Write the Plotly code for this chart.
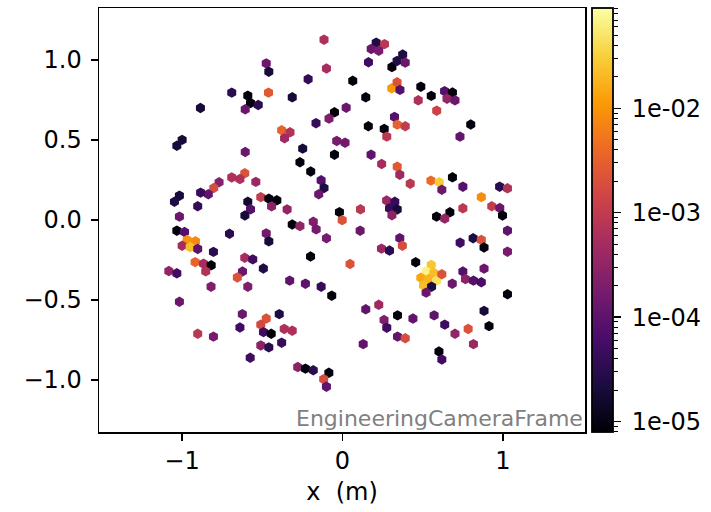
import numpy as np
import plotly.graph_objects as go

# hexbin cell centres (m) and cell values
x_m = [
    -0.475, -0.459, -0.461, -0.690, -0.590, -0.573, -0.525, -0.606, -0.885, -0.999,
    -1.032, -0.606, -0.609, -0.690, -0.639, -0.540, -0.769, -0.802, -0.836, -0.884,
    -1.016, -1.047, -0.902, -0.590, -0.573, -0.509, -0.459, -0.409, -0.442, -0.608,
    -1.016, -0.345, -0.133, -0.115, -0.148, -0.019, -0.002, 0.023, -0.050, -0.084,
    -0.165, -0.036, 0.016, -0.050, -0.248, -0.265, -0.198, -0.379, -0.327, -0.361,
    -0.214, -0.313, -0.115, -0.100, 0.210, 0.262, 0.179, 0.226, 0.162, 0.308,
    0.064, 0.145, 0.307, 0.161, 0.260, 0.276, 0.178, 0.244, 0.112, 0.275,
    0.326, 0.293, 0.341, 0.308, 0.375, 0.340, 0.391, 0.340, 0.358, 0.488,
    0.553, 0.636, 0.685, 0.651, 0.701, 0.472, 0.587, 0.324, 0.341, 0.391,
    0.799, 0.732, 0.341, 0.357, 0.422, 0.551, 0.603, 0.619, 0.685, 0.750,
    0.865, 0.979, 1.028, 0.930, 0.980, 0.997, 0.750, 0.669, 0.586, 0.637,
    -1.032, -0.984, -0.968, -0.916, -0.999, -0.949, -0.902, -0.804, -0.704, -0.475,
    -0.459, -0.918, -0.866, -0.818, -0.852, -1.082, -1.032, -0.819, -1.016, -0.609,
    -0.559, -0.493, -0.623, -0.655, -0.590, -0.624, -0.475, -0.509, -0.639, -0.492,
    -0.444, -0.509, -0.459, -0.575, -0.902, -0.804, -0.313, -0.265, -0.182, -0.164,
    -0.100, 0.110, -0.199, 0.047, 0.243, 0.293, -0.329, -0.231, -0.133, -0.067,
    0.145, 0.226, 0.259, 0.276, 0.129, -0.394, -0.363, -0.313, -0.379, -0.279,
    -0.231, -0.182, -0.085, -0.117, -0.100, 0.343, 0.391, 0.357, 0.373, 0.733,
    0.814, 0.865, 0.882, 1.028, 1.028, 0.456, 0.553, 0.521, 0.569, 0.488,
    0.538, 0.586, 0.619, 0.505, 0.555, 0.521, 0.684, 0.750, 0.882, 0.766,
    0.816, 0.865, 1.028, 0.343, 0.439, 0.571, 0.637, 0.701, 0.783, 0.882,
    0.913, 0.816, 0.601, 0.619,
]
y_m = [
    0.979, 0.927, 0.796, 0.796, 0.777, 0.731, 0.719, 0.692, 0.700, 0.501,
    0.464, 0.425, 0.292, 0.266, 0.256, 0.238, 0.236, 0.200, 0.161, 0.171,
    0.152, 0.114, 0.086, 0.114, 0.067, 0.143, 0.133, 0.123, 0.085, 0.028,
    0.021, 0.066, 0.248, 0.200, 0.161, 0.049, -0.001, 0.702, 0.673, 0.634,
    0.605, 0.494, 0.483, 0.408, 0.446, 0.361, 0.303, 0.561, 0.548, 0.511,
    0.880, 0.767, 1.127, 0.947, 1.108, 1.099, 1.069, 1.058, 0.986, 0.956,
    0.870, 0.767, 0.823, 0.586, 0.569, 0.521, 0.408, 0.350, 0.067, 0.122,
    0.114, 0.073, 0.066, 0.030, 1.034, 0.994, 0.984, 0.861, 0.813, 0.833,
    0.776, 0.805, 0.797, 0.758, 0.748, 0.748, 0.683, 0.644, 0.596, 0.586,
    0.597, 0.521, 0.333, 0.283, 0.227, 0.246, 0.236, 0.189, 0.267, 0.208,
    0.143, 0.208, 0.198, 0.086, 0.075, 0.028, 0.073, 0.048, 0.021, 0.009,
    -0.067, -0.075, -0.125, -0.133, -0.161, -0.169, -0.181, -0.199, -0.086, -0.084,
    -0.133, -0.263, -0.273, -0.283, -0.321, -0.319, -0.333, -0.417, -0.511, -0.236,
    -0.246, -0.303, -0.322, -0.359, -0.417, -0.588, -0.616, -0.654, -0.672, -0.701,
    -0.711, -0.784, -0.796, -0.861, -0.711, -0.729, -0.028, -0.038, -0.011, -0.058,
    -0.114, -0.067, -0.228, -0.275, -0.179, -0.191, -0.379, -0.398, -0.417, -0.473,
    -0.558, -0.530, -0.625, -0.673, -0.776, -0.588, -0.681, -0.692, -0.767, -0.919,
    -0.929, -0.939, -0.955, -0.995, -1.042, -0.729, -0.739, -0.113, -0.161, -0.142,
    -0.114, -0.124, -0.172, -0.067, -0.198, -0.264, -0.281, -0.321, -0.331, -0.361,
    -0.369, -0.379, -0.339, -0.408, -0.417, -0.454, -0.398, -0.322, -0.304, -0.369,
    -0.379, -0.389, -0.464, -0.596, -0.616, -0.596, -0.654, -0.711, -0.681, -0.568,
    -0.663, -0.776, -0.822, -0.872,
]
cell_value = [
    1.3e-4, 2.0e-5, 2.6e-3, 3.2e-5, 9e-6, 9e-6, 3.2e-5, 1.3e-4, 2.0e-5, 2.0e-5,
    2.0e-5, 1.3e-4, 2.1e-3, 6.3e-4, 6.3e-4, 4.0e-4, 2.5e-4, 1.8e-3, 1.1e-4, 4.3e-5,
    2.0e-5, 2.4e-5, 3.9e-5, 1.7e-5, 8.2e-5, 1.0e-3, 9e-6, 9e-6, 2.8e-4, 2.0e-5,
    1.3e-4, 3.3e-4, 8.2e-5, 2.4e-5, 1.3e-4, 9e-6, 2.1e-3, 1.3e-4, 9e-6, 2.1e-4,
    3.9e-5, 1.7e-4, 1.6e-4, 9e-6, 2.0e-5, 9e-6, 9e-6, 3.4e-3, 7.0e-4, 4.4e-4,
    3.9e-5, 2.0e-5, 6.3e-4, 5.3e-4, 2.4e-5, 8.4e-4, 1.3e-4, 1.7e-4, 5.1e-5, 9e-6,
    9e-6, 9e-6, 1.1e-2, 9e-6, 9e-6, 8.4e-4, 9.9e-5, 5.3e-4, 8.4e-4, 4.0e-4,
    3.9e-5, 4.3e-5, 2.0e-5, 2.8e-4, 2.4e-5, 2.4e-5, 1.3e-4, 2.1e-3, 8.2e-5, 9e-6,
    9e-6, 8.2e-5, 9e-6, 3.3e-4, 1.3e-4, 6.3e-4, 1.3e-3, 8.2e-5, 3.4e-3, 1.0e-3,
    9e-6, 1.1e-4, 2.6e-3, 4.4e-4, 8.4e-4, 4.1e-3, 2.9e-2, 1.3e-4, 9e-6, 8.2e-5,
    8.7e-3, 3.2e-5, 7.0e-4, 1.0e-3, 1.3e-4, 9e-6, 8.4e-4, 9e-6, 9e-6, 3.3e-4,
    9e-6, 8.2e-5, 9.5e-3, 7.9e-3, 5.3e-4, 2.2e-2, 9.9e-5, 3.2e-5, 3.2e-5, 1.6e-4,
    2.0e-5, 3.4e-3, 5.3e-4, 9e-6, 7.0e-4, 3.3e-4, 5.1e-5, 2.1e-4, 1.3e-4, 5.3e-4,
    5.1e-5, 2.4e-5, 1.3e-4, 2.1e-3, 2.1e-4, 1.3e-4, 2.1e-3, 1.6e-3, 5.1e-5, 5.1e-5,
    9e-6, 2.8e-4, 3.2e-5, 5.1e-5, 8.4e-4, 1.7e-4, 9e-6, 3.3e-4, 2.1e-4, 1.7e-4,
    1.7e-4, 1.3e-4, 9e-6, 2.1e-3, 4.0e-4, 3.2e-5, 1.1e-4, 9.9e-5, 3.9e-5, 9e-6,
    1.1e-4, 4.4e-4, 2.1e-4, 5.1e-5, 1.1e-4, 2.4e-5, 6.3e-4, 6.3e-4, 4.3e-5, 2.8e-4,
    9e-6, 3.2e-5, 9e-6, 1.8e-3, 9.9e-5, 1.1e-4, 1.8e-3, 1.1e-4, 1.8e-3, 5.1e-5,
    2.4e-5, 2.1e-3, 9e-6, 9.9e-5, 1.7e-4, 9e-6, 2.6e-2, 6.7e-2, 2.2e-2, 1.4e-2,
    1.8e-2, 4.6e-2, 2.1e-3, 2.2e-2, 2.4e-5, 1.3e-4, 1.3e-4, 8.2e-5, 1.3e-4, 2.8e-4,
    8.2e-5, 6.2e-5, 9e-6, 9e-6, 1.1e-4, 9.9e-5, 5.1e-5, 3.3e-4, 2.1e-3, 2.0e-5,
    9e-6, 4.0e-4, 9e-6, 5.1e-5,
]

x_ticks = [-1, 0, 1]
x_ticktext = ["\u22121", "0", "1"]
y_ticks = [-1.0, -0.5, 0.0, 0.5, 1.0]
y_ticktext = ["\u22121.0", "\u22120.5", "0.0", "0.5", "1.0"]
cbar_ticks = [1e-5, 1e-4, 1e-3, 1e-2]
cbar_ticktext = ["1e-05", "1e-04", "1e-03", "1e-02"]
cbar_range_log = [-5.1, -1.04]
frame_label = "EngineeringCameraFrame"

FONT = "DejaVu Sans"
W, H = 711, 512
ML, MR, MT, MB = 99, 11, 8, 80
plot_w = W - ML - MR
x_dom_end = 486 / plot_w

minor_vals = [m * 10.0 ** e for e in range(-6, 0) for m in range(2, 10)]

fig = go.Figure()
fig.add_trace(go.Scatter(
    x=x_m, y=y_m, mode="markers",
    marker=dict(
        symbol="hexagon", size=10.4, line=dict(width=0),
        color=np.log10(cell_value), colorscale="Inferno",
        cmin=cbar_range_log[0], cmax=cbar_range_log[1],
        showscale=True,
        colorbar=dict(
            thickness=21, thicknessmode="pixels",
            len=1, lenmode="fraction", y=0.5, yanchor="middle",
            x=(591.5 - ML) / plot_w, xanchor="left",
            xpad=0, ypad=0, outlinewidth=1.8, outlinecolor="black",
            showticklabels=False, ticks="",
        ),
    ),
    showlegend=False, hoverinfo="skip",
))
# invisible trace carrying the log axis used for the colour bar ticks
fig.add_trace(go.Scatter(
    x=[0], y=[1e-3], yaxis="y2", mode="markers",
    marker=dict(opacity=0), showlegend=False, hoverinfo="skip",
))

axis_common = dict(
    showline=True, mirror=True, linecolor="black", linewidth=1.5,
    ticks="outside", ticklen=7, tickwidth=1.5, tickcolor="black",
    showgrid=False, zeroline=False, automargin=False,
    tickfont=dict(family=FONT, size=24, color="black"),
)
fig.update_layout(
    width=W, height=H,
    margin=dict(l=ML, r=MR, t=MT, b=MB, autoexpand=False),
    paper_bgcolor="white", plot_bgcolor="white",
    font=dict(family=FONT, color="black"),
    xaxis=dict(
        domain=[0, x_dom_end], range=[-1.517, 1.511],
        tickvals=x_ticks, ticktext=x_ticktext,
        title=dict(text="x\u00a0\u00a0(m)", font=dict(family=FONT, size=24), standoff=9),
        **axis_common,
    ),
    yaxis=dict(
        range=[-1.325, 1.325],
        tickvals=y_ticks, ticktext=y_ticktext,
        ticklabelstandoff=4,
        **axis_common,
    ),
    yaxis2=dict(
        type="log", range=cbar_range_log, overlaying="y", anchor="free",
        position=(613 - ML) / plot_w, side="right", automargin=False,
        showline=False, showgrid=False, zeroline=False,
        ticks="outside", ticklen=7, tickwidth=1.5, tickcolor="black",
        tickvals=cbar_ticks, ticktext=cbar_ticktext,
        ticklabelstandoff=6,
        tickfont=dict(family=FONT, size=24, color="black"),
        minor=dict(ticks="outside", ticklen=4, tickwidth=1, tickcolor="black",
                   tickmode="array", tickvals=minor_vals, showgrid=False),
    ),
    annotations=[dict(
        text=frame_label, xref="x domain", yref="y domain",
        x=0.997, y=0.0, xanchor="right", yanchor="bottom",
        showarrow=False, borderpad=0,
        font=dict(family=FONT, size=22, color="#808080"),
    )],
)

fig.write_html(
    "out.html",
    config={"displayModeBar": False, "staticPlot": True},
    post_script="document.body.style.margin='0';document.body.style.overflow='hidden';",
)
